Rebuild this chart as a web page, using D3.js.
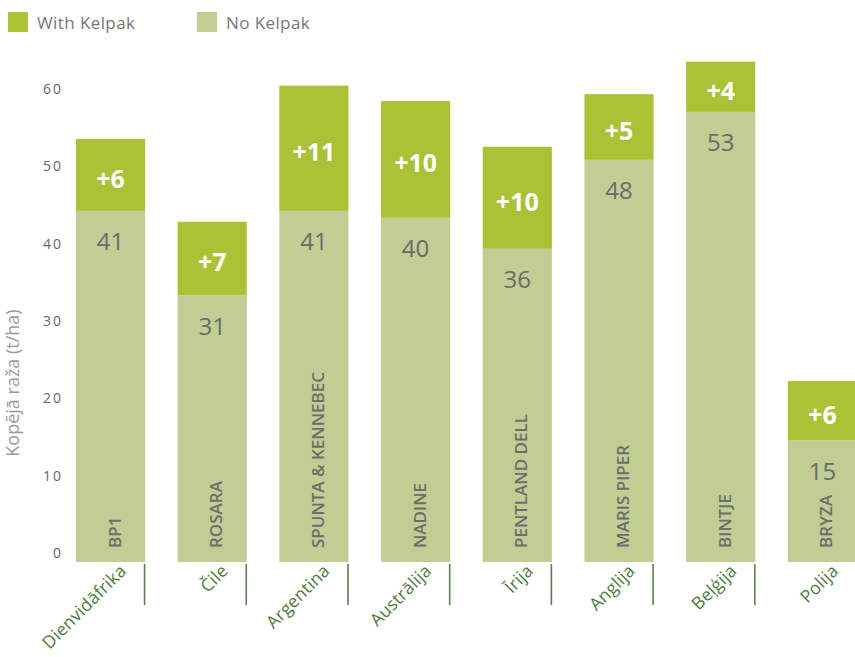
<!DOCTYPE html>
<html>
<head>
<meta charset="utf-8">
<script src="https://cdn.jsdelivr.net/npm/d3@7"></script>
<style>
  html, body { margin: 0; padding: 0; background: #fff; }
  svg { display: block; font-family: "Open Sans", "Noto Sans", sans-serif; }
</style>
</head>
<body>
<svg id="chart" width="855" height="657"></svg>
<script>
// ---- data ----
const countries = ["Dienvidāfrika", "Čile", "Argentina", "Austrālija", "Īrija", "Anglija", "Beļģija", "Polija"];
const varieties = ["BP1", "ROSARA", "SPUNTA & KENNEBEC", "NADINE", "PENTLAND DELL", "MARIS PIPER", "BINTJE", "BRYZA"];
// printed labels
const noKelpakLabels = [41, 31, 41, 40, 36, 48, 53, 15];
const gainLabels = [6, 7, 11, 10, 10, 5, 4, 6];
// bar heights as drawn, read against the axis (t/ha)
const noKelpakBar = [45.4, 34.5, 45.4, 44.5, 40.5, 52.0, 58.2, 15.7];
const withKelpakBar = [54.7, 44.0, 61.6, 59.6, 53.7, 60.5, 64.7, 23.4];
const yTicks = [0, 10, 20, 30, 40, 50, 60];
const seriesNames = ["With Kelpak", "No Kelpak"];
const colors = { with: "#abc236", no: "#c1cd93" };

const rows = countries.map((c, i) => ({
  country: c, variety: varieties[i],
  baseLabel: noKelpakLabels[i], gainLabel: gainLabels[i],
  base: noKelpakBar[i], total: withKelpakBar[i]
}));

const svg = d3.select("#chart");

const x = d3.scaleBand()
  .domain(countries)
  .range([59.65, 873.25])
  .paddingInner(0.32)
  .paddingOuter(0.16);

const y = d3.scaleLinear().domain([0, 60]).range([562, 98]);

// ---- y axis ----
const yAxis = svg.append("g")
  .attr("transform", "translate(63,0)")
  .call(d3.axisLeft(y).tickValues(yTicks).tickSize(0).tickPadding(0));
yAxis.select(".domain").remove();
yAxis.selectAll("text")
  .attr("font-family", "'Open Sans', sans-serif")
  .attr("font-size", 14)
  .attr("fill", "#666")
  .attr("letter-spacing", "2px")
  .attr("dy", null)
  .attr("y", -10)
  .attr("dominant-baseline", "central");

svg.append("text")
  .attr("transform", "translate(12,383) rotate(-90)")
  .attr("text-anchor", "middle")
  .attr("dominant-baseline", "central")
  .attr("font-size", 18)
  .attr("fill", "#9a9a9a")
  .text("Kopējā raža (t/ha)");

// ---- bars ----
const g = svg.append("g");
const bars = g.selectAll("g.bar").data(rows).join("g").attr("class", "bar");

bars.append("rect")
  .attr("x", d => x(d.country))
  .attr("width", x.bandwidth())
  .attr("y", d => y(d.total))
  .attr("height", d => y(d.base) - y(d.total))
  .attr("fill", colors.with);

bars.append("rect")
  .attr("x", d => x(d.country))
  .attr("width", x.bandwidth())
  .attr("y", d => y(d.base))
  .attr("height", d => y(0) - y(d.base))
  .attr("fill", colors.no);

// gain labels
bars.append("text")
  .attr("x", d => x(d.country) + x.bandwidth() / 2)
  .attr("y", d => (y(d.base) + y(d.total)) / 2 + 3)
  .attr("text-anchor", "middle")
  .attr("dominant-baseline", "central")
  .attr("font-size", 25)
  .attr("font-weight", 700)
  .attr("fill", "#fff")
  .text(d => "+" + d.gainLabel);

// base labels
bars.append("text")
  .attr("x", d => x(d.country) + x.bandwidth() / 2)
  .attr("y", d => y(d.base) + 30)
  .attr("text-anchor", "middle")
  .attr("dominant-baseline", "central")
  .attr("font-size", 24)
  .attr("fill", "#6b6b6b")
  .text(d => d.baseLabel);

// variety labels (vertical)
bars.append("text")
  .attr("transform", d => `translate(${x(d.country) + x.bandwidth() / 2 + 3.5},${y(0) - 14}) rotate(-90)`)
  .attr("text-anchor", "start")
  .attr("dominant-baseline", "central")
  .attr("font-size", 17)
  .attr("font-weight", 600)
  .attr("fill", "#6d6d6d")
  .text(d => d.variety);

// separators
svg.append("g").selectAll("line")
  .data(countries.slice(0, countries.length - 1))
  .join("line")
  .attr("x1", d => x(d) + x.bandwidth() - 0.5)
  .attr("x2", d => x(d) + x.bandwidth() - 0.5)
  .attr("y1", y(0) + 2)
  .attr("y2", y(0) + 43)
  .attr("stroke", "#5b7f52")
  .attr("stroke-width", 1.6);

// country labels
svg.append("g").selectAll("text")
  .data(countries)
  .join("text")
  .attr("transform", d => `translate(${x(d) + x.bandwidth() / 2 + 17},${y(0) + 10}) rotate(-45)`)
  .attr("text-anchor", "end")
  .attr("font-size", 17.5)
  .attr("letter-spacing", "0.2px")
  .attr("fill", "#4e7a3e")
  .text(d => d);

// ---- legend ----
const legendX = [8, 197];
const legend = svg.append("g").selectAll("g")
  .data(seriesNames)
  .join("g")
  .attr("transform", (d, i) => `translate(${legendX[i]},12)`);
legend.append("rect")
  .attr("width", 20).attr("height", 20)
  .attr("fill", (d, i) => i === 0 ? colors.with : colors.no);
legend.append("text")
  .attr("x", 29).attr("y", 10)
  .attr("dominant-baseline", "central")
  .attr("font-size", 17)
  .attr("letter-spacing", "0.4px")
  .attr("fill", "#777")
  .text(d => d);
</script>
</body>
</html>
